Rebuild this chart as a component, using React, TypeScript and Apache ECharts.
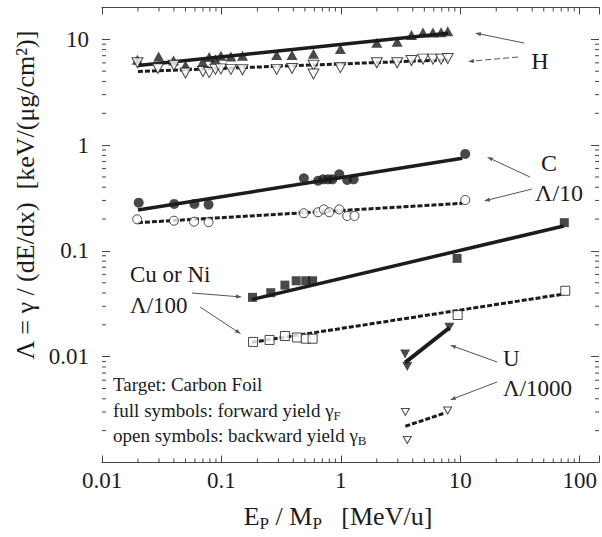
import React, { useEffect, useRef } from "react";
import * as echarts from "echarts";

// ---- axis ranges & tick labels ----
const X_MIN = 0.01;
const X_MAX = 145;
const Y_MIN = 0.001;
const Y_MAX = 20;
const X_TICK_LABELS = ["0.01", "0.1", "1", "10", "100"];
const Y_TICK_LABELS = ["0.01", "0.1", "1", "10"];
const MINOR_MULTS = [2, 3, 4, 5, 6, 7, 8, 9];
const X_DECADES = [0.01, 0.1, 1, 10];
const Y_DECADES = [0.001, 0.01, 0.1, 1];

// ---- data: [E/M (MeV/u), Lambda] ----
const H_FWD = [
  [0.0198, 6.4], [0.0298, 6.9], [0.0397, 6.3], [0.05, 5.65], [0.0697, 6.1], [0.079, 6.8],
  [0.089, 6.5], [0.099, 7.0], [0.12, 6.9], [0.15, 7.0], [0.29, 7.1], [0.39, 7.1],
  [0.59, 7.3], [0.99, 8.1], [2.0, 9.3], [2.96, 9.5], [3.9, 11.0], [4.87, 11.6],
  [5.9, 11.6], [6.9, 11.7], [7.85, 11.9],
];
const H_BWD = [
  [0.0198, 6.0], [0.0294, 5.3], [0.04, 5.7], [0.05, 4.8], [0.07, 4.96], [0.079, 4.85],
  [0.089, 5.2], [0.099, 5.26], [0.12, 5.2], [0.15, 5.15], [0.29, 5.2], [0.39, 5.3],
  [0.59, 5.7], [0.59, 4.7], [0.99, 5.4], [2.0, 6.0], [2.96, 6.0], [3.9, 6.3],
  [4.87, 6.5], [5.9, 6.5], [6.9, 6.5], [7.85, 6.6],
];
const C_FWD = [
  [0.0203, 0.286], [0.0402, 0.278], [0.0594, 0.278], [0.078, 0.274], [0.49, 0.486],
  [0.644, 0.461], [0.71, 0.475], [0.78, 0.475], [0.85, 0.475], [0.97, 0.53],
  [1.13, 0.469], [1.28, 0.475], [11.0, 0.826],
];
const C_BWD = [
  [0.0197, 0.199], [0.04, 0.193], [0.059, 0.189], [0.078, 0.187], [0.49, 0.227],
  [0.644, 0.232], [0.72, 0.247], [0.8, 0.232], [0.97, 0.247], [1.13, 0.214],
  [1.3, 0.214], [11.0, 0.303],
];
const CU_FWD = [
  [0.182, 0.0364], [0.259, 0.0403], [0.34, 0.0475], [0.423, 0.0522], [0.508, 0.0522],
  [0.58, 0.0522], [9.4, 0.085], [74.3, 0.185],
];
const CU_BWD = [
  [0.184, 0.0138], [0.253, 0.0144], [0.34, 0.0157], [0.43, 0.0152], [0.508, 0.0148],
  [0.58, 0.0148], [9.5, 0.0248], [75.7, 0.042],
];
const U_FWD = [[3.45, 0.0106], [3.6, 0.0081], [8.1, 0.019]];
const U_BWD = [[3.47, 0.003], [3.6, 0.00163], [7.84, 0.0031]];

// ---- fit lines (end points) ----
const H_FWD_FIT = [[0.02, 5.65], [7.9, 11.4]];
const H_BWD_FIT = [[0.02, 4.96], [7.9, 6.4]];
const C_FWD_FIT = [[0.02, 0.244], [10.4, 0.75]];
const C_BWD_FIT = [[0.02, 0.185], [10.4, 0.282]];
const CU_FWD_FIT = [[0.18, 0.0348], [73.5, 0.172]];
const CU_BWD_FIT = [[0.18, 0.0137], [73.5, 0.0391]];
const U_FWD_FIT = [[3.45, 0.0088], [8.1, 0.0188]];
const U_BWD_FIT = [[3.47, 0.0022], [7.5, 0.00295]];

const FONT = '"Liberation Serif", "Times New Roman", serif';
const INK = "#1c1c1c";

function decadeLabel(v: number, allowed: string[]): string {
  const l = Math.log10(v);
  const e = Math.round(l);
  if (Math.abs(l - e) > 1e-6) return "";
  const s = e >= 0 ? String(Math.pow(10, e)) : "0." + "0".repeat(-e - 1) + "1";
  return allowed.indexOf(s) >= 0 ? s : "";
}

function arrow(x1: number, y1: number, x2: number, y2: number, dashed = false) {
  const ang = Math.atan2(y2 - y1, x2 - x1);
  const L = 6;
  const W = 2;
  const bx = x2 - L * Math.cos(ang);
  const by = y2 - L * Math.sin(ang);
  const nx = -Math.sin(ang) * W;
  const ny = Math.cos(ang) * W;
  return [
    {
      type: "line",
      shape: { x1, y1, x2: bx, y2: by },
      style: { stroke: "#555", lineWidth: 1, lineDash: dashed ? [6, 3] : null },
    },
    {
      type: "polygon",
      shape: { points: [[x2, y2], [bx + nx, by + ny], [bx - nx, by - ny]] },
      style: { fill: "#555" },
    },
  ];
}

function label(text: string, x: number, y: number, size: number, align = "left", rich?: any) {
  return {
    type: "text",
    x,
    y,
    z: 10,
    style: {
      text,
      fontSize: size,
      fontFamily: FONT,
      fill: INK,
      textAlign: align,
      textVerticalAlign: "middle",
      rich,
    },
  };
}

export default function App() {
  const ref = useRef<HTMLDivElement>(null);
  useEffect(() => {
    if (!ref.current) return;
    const chart = echarts.init(ref.current, null, { renderer: "svg" });

    const xMinor: number[][] = [];
    X_DECADES.forEach((d) => MINOR_MULTS.forEach((m) => {
      const v = d * m;
      if (v < X_MAX) xMinor.push([v, Y_MIN]);
    }));
    const yMinor: number[][] = [];
    Y_DECADES.forEach((d) => MINOR_MULTS.forEach((m) => {
      const v = d * m;
      if (v < Y_MAX) yMinor.push([X_MIN, v]);
    }));

    const tickStyle = { stroke: "#444", lineWidth: 1 };
    const fitLine = (data: number[][], dashed: boolean, width: number) => ({
      type: "line",
      data,
      showSymbol: false,
      symbol: "none",
      z: 2,
      silent: true,
      lineStyle: { color: INK, width, type: dashed ? [5, 2] : "solid" },
    });
    const pts = (data: number[][], symbol: string, size: any, filled: boolean, rotate = 0) => ({
      type: "scatter",
      data,
      symbol,
      symbolSize: size,
      symbolRotate: rotate,
      z: 3,
      itemStyle: filled
        ? { color: INK }
        : { color: "#ffffff", borderColor: INK, borderWidth: 1 },
    });

    const rich = (main: number, sub: number, pad: number) => ({
      m: { fontSize: main, fontFamily: FONT, fill: INK },
      s: { fontSize: sub, fontFamily: FONT, fill: INK, padding: [pad, 0, 0, 0] },
    });

    chart.setOption({
      animation: false,
      backgroundColor: "#ffffff",
      grid: { left: 102, right: 0, top: 7.5, bottom: 74.5, containLabel: false },
      xAxis: [
        {
          type: "log",
          min: X_MIN,
          max: X_MAX,
          position: "bottom",
          axisLine: { show: true, lineStyle: { color: "#444", width: 1 } },
          axisTick: { show: true, inside: true, length: 7, lineStyle: { color: "#444" } },
          axisLabel: {
            interval: 0,
            margin: 6,
            fontSize: 23,
            fontFamily: FONT,
            color: INK,
            formatter: (v: number) => decadeLabel(v, X_TICK_LABELS),
          },
          splitLine: { show: false },
        },
        {
          type: "log",
          min: X_MIN,
          max: X_MAX,
          position: "top",
          axisLine: { show: true, lineStyle: { color: "#444", width: 1 } },
          axisTick: { show: true, inside: true, length: 7, lineStyle: { color: "#444" } },
          axisLabel: { show: false },
          splitLine: { show: false },
        },
      ],
      yAxis: [
        {
          type: "log",
          min: Y_MIN,
          max: Y_MAX,
          position: "left",
          axisLine: { show: false },
          axisTick: { show: true, inside: true, length: 8, lineStyle: { color: "#444" } },
          axisLabel: {
            interval: 0,
            margin: 13,
            fontSize: 23,
            fontFamily: FONT,
            color: INK,
            formatter: (v: number) => decadeLabel(v, Y_TICK_LABELS),
          },
          splitLine: { show: false },
        },
        {
          type: "log",
          min: Y_MIN,
          max: Y_MAX,
          position: "right",
          axisLine: { show: false },
          axisTick: { show: true, inside: true, length: 8, lineStyle: { color: "#444" } },
          axisLabel: { show: false },
          splitLine: { show: false },
        },
      ],
      series: [
        {
          type: "custom",
          silent: true,
          z: 1,
          data: xMinor,
          renderItem: (params: any, api: any) => {
            const cs = params.coordSys;
            const x = api.coord([api.value(0), Y_MIN])[0];
            const yb = cs.y + cs.height;
            return {
              type: "group",
              children: [
                { type: "line", shape: { x1: x, y1: yb, x2: x, y2: yb - 4 }, style: tickStyle },
                { type: "line", shape: { x1: x, y1: cs.y, x2: x, y2: cs.y + 4 }, style: tickStyle },
              ],
            };
          },
        },
        {
          type: "custom",
          silent: true,
          z: 1,
          data: yMinor,
          renderItem: (params: any, api: any) => {
            const cs = params.coordSys;
            const y = api.coord([X_MIN, api.value(1)])[1];
            const xr = cs.x + cs.width;
            return {
              type: "group",
              children: [
                { type: "line", shape: { x1: cs.x, y1: y, x2: cs.x + 4, y2: y }, style: tickStyle },
                { type: "line", shape: { x1: xr, y1: y, x2: xr - 4, y2: y }, style: tickStyle },
              ],
            };
          },
        },
        fitLine(H_FWD_FIT, false, 3.5),
        fitLine(H_BWD_FIT, true, 3),
        fitLine(C_FWD_FIT, false, 3.5),
        fitLine(C_BWD_FIT, true, 3),
        fitLine(CU_FWD_FIT, false, 3.5),
        fitLine(CU_BWD_FIT, true, 3),
        fitLine(U_FWD_FIT, false, 4),
        fitLine(U_BWD_FIT, true, 3),
        pts(H_FWD, "triangle", [11, 10], true),
        pts(H_BWD, "triangle", [11, 10], false, 180),
        pts(C_FWD, "circle", 10, true),
        pts(C_BWD, "circle", 9, false),
        pts(CU_FWD, "rect", 9, true),
        pts(CU_BWD, "rect", 9, false),
        pts(U_FWD, "triangle", [10, 9], true, 180),
        pts(U_BWD, "triangle", [8, 7], false, 180),
      ],
      graphic: {
        elements: [
          // axis titles
          {
            type: "text",
            x: 25,
            y: 195,
            rotation: Math.PI / 2,
            style: {
              text: "Λ = γ / (dE/dx)  [keV/(μg/cm²)]",
              fontSize: 26,
              fontFamily: FONT,
              fill: INK,
              textAlign: "center",
              textVerticalAlign: "middle",
            },
          },
          label("{m|E}{s|P}{m| / M}{s|P}{m|   [MeV/u]}", 338, 516, 26, "center", rich(26, 17, 14)),
          // annotations
          label("H", 540, 61, 24, "center"),
          label("C", 549, 163, 24, "center"),
          label("Λ/10", 535, 193, 24, "left"),
          label("Cu or Ni", 130, 274, 23, "left"),
          label("Λ/100", 130, 305, 23, "left"),
          label("U", 503, 358, 23, "left"),
          label("Λ/1000", 503, 388, 23, "left"),
          label("Target: Carbon Foil", 113, 384, 19, "left"),
          label("{m|full symbols: forward yield γ}{s|F}", 113, 410, 19, "left", rich(19, 13, 10)),
          label("{m|open symbols: backward yield γ}{s|B}", 113, 435, 19, "left", rich(19, 13, 10)),
          // arrows
          ...arrow(524, 43, 475, 33),
          ...arrow(518, 57, 468, 61.5, true),
          ...arrow(530, 177, 487, 157),
          ...arrow(532, 189, 484, 201),
          ...arrow(192, 293, 242, 297),
          ...arrow(200, 307, 241, 334),
          ...arrow(497, 362, 450, 345),
          ...arrow(497, 382, 450, 400),
        ],
      },
    });
    return () => chart.dispose();
  }, []);
  return (
    <div
      ref={ref}
      style={{ position: "absolute", left: 0, top: 0, width: 602, height: 537, background: "#fff" }}
    />
  );
}
